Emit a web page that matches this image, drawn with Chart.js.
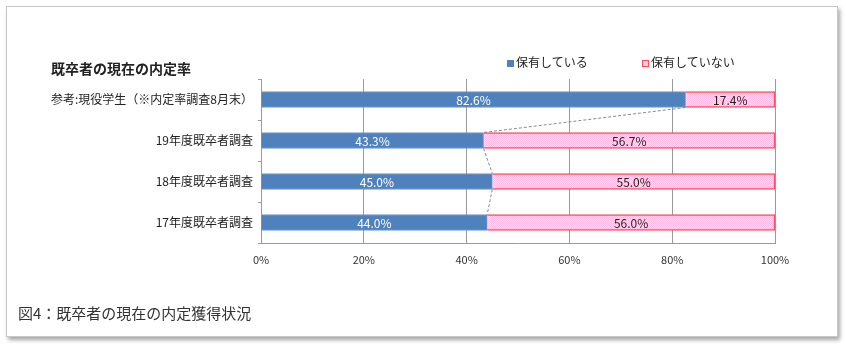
<!DOCTYPE html>
<html>
<head>
<meta charset="utf-8">
<script src="https://cdn.jsdelivr.net/npm/chart.js@4"></script>
<style>
  body { margin: 0; background: #fff; font-family: "Noto Sans CJK JP", sans-serif; }
  #wrap { position: relative; width: 846px; height: 353px; overflow: hidden; }
  #frame { position: absolute; left: 6px; top: 6px; width: 830px; height: 329px;
           border: 1px solid #c8c8c8; box-shadow: 2px 3px 4px rgba(0,0,0,0.35); background: #fff; }
  canvas { position: absolute; left: 0; top: 0; }
  .txt { position: absolute; white-space: nowrap; color: #222; }
  #title { left: 51px; top: 58px; font-size: 14px; font-weight: bold; }
  #caption { left: 18px; top: 302px; font-size: 15px; color: #333; }
  .lg { top: 53px; font-size: 12px; }
  .sw { display: inline-block; width: 7px; height: 7px; margin-right: 2px; vertical-align: 0px; }
</style>
</head>
<body>
<div id="wrap">
  <div id="frame"></div>
  <canvas id="chart" width="846" height="353"></canvas>
  <div class="txt" id="title">既卒者の現在の内定率</div>
  <div class="txt lg" style="left:507px"><span class="sw" style="background:#4f81bd"></span>保有している</div>
  <div class="txt lg" style="left:642px"><span class="sw" style="background:#ffd6ef;border:1px solid #ff5060;width:5px;height:5px"></span>保有していない</div>
  <div class="txt" id="caption">図4：既卒者の現在の内定獲得状況</div>
</div>
<script>
// data
const categories = ['参考:現役学生（※内定率調査8月末）', '19年度既卒者調査', '18年度既卒者調査', '17年度既卒者調査'];
const hasOffer = [82.6, 43.3, 45.0, 44.0];
const noOffer = [17.4, 56.7, 55.0, 56.0];
const xTicks = [0, 20, 40, 60, 80, 100];

// pink dotted fill
function pinkPattern() {
    const c = document.createElement('canvas');
    c.width = 2; c.height = 2;
    const g = c.getContext('2d');
    g.fillStyle = '#ffe3f4'; g.fillRect(0, 0, 2, 2);
    g.fillStyle = '#ffbde6'; g.fillRect(0, 0, 1, 1); g.fillRect(1, 1, 1, 1);
    return g.createPattern(c, 'repeat');
}

// value labels inside bars
const valueLabels = {
    id: 'valueLabels',
    afterDatasetsDraw(chart) {
        const ctx = chart.ctx;
        ctx.save();
        ctx.font = '12px "Noto Sans CJK JP", sans-serif';
        ctx.textAlign = 'center';
        ctx.textBaseline = 'middle';
        chart.data.datasets.forEach((ds, i) => {
            chart.getDatasetMeta(i).data.forEach((bar, j) => {
                const left = Math.min(bar.x, bar.base), right = Math.max(bar.x, bar.base);
                ctx.fillStyle = i === 0 ? '#ffffff' : '#222222';
                ctx.fillText(ds.data[j].toFixed(1) + '%', (left + right) / 2, bar.y + 1);
            });
        });
        ctx.restore();
    }
};

// dashed series lines between blue bar ends
const seriesLines = {
    id: 'seriesLines',
    beforeDatasetsDraw(chart) {
        const ctx = chart.ctx;
        const bars = chart.getDatasetMeta(0).data;
        ctx.save();
        ctx.strokeStyle = '#888';
        ctx.lineWidth = 1;
        ctx.setLineDash([3, 2]);
        for (let j = 0; j < bars.length - 1; j++) {
            const a = bars[j], b = bars[j + 1];
            ctx.beginPath();
            ctx.moveTo(a.x, a.y + a.height / 2);
            ctx.lineTo(b.x, b.y - b.height / 2);
            ctx.stroke();
        }
        ctx.restore();
    }
};

new Chart(document.getElementById('chart'), {
    type: 'bar',
    data: {
        labels: categories,
        datasets: [{
            label: '保有している',
            data: hasOffer,
            backgroundColor: '#4f81bd',
            borderColor: '#6e98cc',
            borderWidth: 1,
            barThickness: 16
        }, {
            label: '保有していない',
            data: noOffer,
            backgroundColor: pinkPattern(),
            borderColor: '#ff4d5e',
            borderWidth: 1.5,
            barThickness: 16
        }]
    },
    options: {
        indexAxis: 'y',
        responsive: false,
        animation: false,
        layout: { padding: { left: 0, right: 71, top: 79, bottom: 80 } },
        plugins: { legend: { display: false }, tooltip: { enabled: false } },
        scales: {
            x: {
                stacked: true,
                min: 0, max: 100,
                afterBuildTicks: s => { s.ticks = xTicks.map(v => ({ value: v })); },
                afterFit: s => { s.height = 30; },
                ticks: { callback: v => v + '%', color: '#333', padding: 10,
                         font: { size: 11, family: '"Noto Sans CJK JP", sans-serif' } },
                grid: { color: '#9a9a9a', tickLength: 0 },
                border: { color: '#9a9a9a' }
            },
            y: {
                stacked: true,
                afterFit: s => { s.width = 261; },
                ticks: { color: '#222', padding: 5,
                         font: { size: 12, family: '"Noto Sans CJK JP", sans-serif' } },
                grid: { offset: true, drawOnChartArea: false, tickLength: 3, color: '#9a9a9a' },
                border: { color: '#9a9a9a' }
            }
        }
    },
    plugins: [seriesLines, valueLabels]
});
</script>
</body>
</html>
